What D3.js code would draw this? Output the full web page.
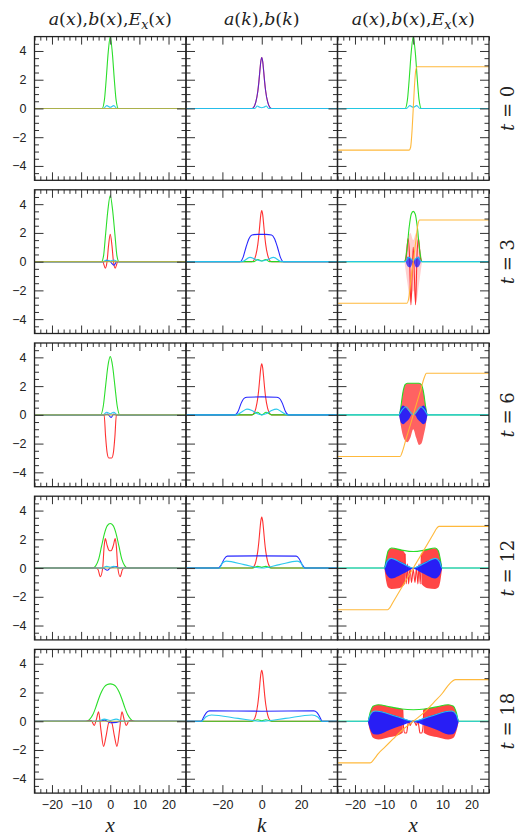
<!DOCTYPE html>
<html>
<head>
<meta charset="utf-8">
<script src="https://cdn.jsdelivr.net/npm/d3@7"></script>
<style>
  body { margin: 0; background: #fff; }
  svg text { fill: #222; }
</style>
</head>
<body>
<div id="chart"></div>
<script>
// ---- labels / ticks ----
const times = [0, 3, 6, 12, 18];
const xTicksX = [-20, -10, 0, 10, 20];
const xTicksK = [-20, 0, 20];
const yTicks = [-4, -2, 0, 2, 4];
const xAxisNames = ["x", "k", "x"];

// ---- values: [x, y] or [x, upper, lower] ----
const pZero = [[-26, 0], [26, 0]];
const kPeakRed = [[-5,0],[-4,0.1],[-3,0.45],[-2,1.2],[-1.5,1.8],[-1,2.55],[-0.5,3.25],[0,3.55],[0.5,3.25],[1,2.55],[1.5,1.8],[2,1.2],[3,0.45],[4,0.1],[5,0]];

// t = 0
const p0Green = [[-2.8,0],[-2,0.6],[-1.4,2.0],[-0.7,3.9],[0,5],[0.7,3.9],[1.4,2.0],[2,0.6],[2.8,0]];
const p0Cyan = [[-2.3,0],[-1.2,0.2],[0,0.08],[1.2,0.2],[2.3,0]];
const k0Cyan = [[-3.5,0],[-2.3,0.17],[-1,0.08],[0,0.05],[1,0.08],[2.3,0.17],[3.5,0]];
const f0Orange = [[-1.4,-2.9],[-0.9,-2.7],[-0.4,-1.5],[0,0],[0.4,1.5],[0.9,2.7],[1.4,2.9]];

// t = 3
const p3Green = [[-3,0],[-2.3,0.4],[-1.6,1.9],[-0.8,3.6],[0,4.6],[0.8,3.6],[1.6,1.9],[2.3,0.4],[3,0]];
const p3Red = [[-2.6,0],[-1.7,-0.45],[-1.1,0],[-0.6,1.1],[0,1.9],[0.6,1.1],[1.1,0],[1.7,-0.45],[2.6,0]];
const p3Blue = [[-2,0],[-1.2,0.1],[0,0],[1.3,-0.25],[2.2,0]];
const p3Cyan = [[-2.5,0],[-1.2,0.12],[0,0.05],[1.2,0.12],[2.5,0]];
const k3Blue = [[-11,0],[-9.5,0.3],[-8,1.0],[-6.5,1.6],[-5,1.85],[-2,1.9],[0,1.9],[2,1.9],[5,1.85],[6.5,1.6],[8,1.0],[9.5,0.3],[11,0]];
const k3Cyan = [[-10,0],[-6,0.3],[-3,0.15],[0,0.05],[3,0.15],[6,0.3],[10,0]];
const k3Green = [[-4,0],[-2,0.15],[0,0.05],[2,0.15],[4,0]];
const f3Green = [[-3,0],[-2.2,0.8],[-1.4,2.4],[-0.7,3.3],[0,3.5],[0.7,3.3],[1.4,2.4],[2.2,0.8],[3,0]];
const f3Red = [[-3,0],[-2.4,0.3],[-1.8,1.6],[-1.3,0.5],[-0.8,-3.0],[-0.3,-0.5],[0,1.0],[0.3,-0.5],[0.8,-3.0],[1.3,0.5],[1.8,1.6],[2.4,0.3],[3,0]];
const f3RedBand = [[-3,0,0],[-2,1.5,-1.5],[-1,2.0,-2.8],[0,1.5,-2.0],[1,2.0,-2.8],[2,1.5,-1.5],[3,0,0]];
const f3BlueBand = [[-2.6,0,0],[-1.8,0.35,-0.35],[-1,0.25,-0.4],[0,0.05,-0.05],[1,0.25,-0.4],[1.8,0.35,-0.35],[2.6,0,0]];
const f3Cyan = [[-2.8,0],[-1.5,0.3],[0,0.1],[1.5,0.3],[2.8,0]];
const f3Orange = [[-2.2,-2.9],[-1.6,-2.6],[-0.8,-1.3],[0,0],[0.8,1.3],[1.6,2.6],[2.2,2.9]];

// t = 6
const p6Green = [[-3.3,0],[-2.4,0.6],[-1.6,2.0],[-0.8,3.4],[0,4.05],[0.8,3.4],[1.6,2.0],[2.4,0.6],[3.3,0]];
const p6Red = [[-2.8,0],[-2.1,0],[-1.6,-1.5],[-1.1,-2.6],[-0.5,-3.0],[0,-3.0],[0.5,-3.0],[1.1,-2.6],[1.6,-1.5],[2.1,0],[2.8,0]];
const p6Blue = [[-2,0],[-1,0.05],[0.3,-0.18],[1.2,0.05],[2,0]];
const p6Cyan = [[-2.5,0],[-1.2,0.18],[0,0.08],[1.2,0.18],[2.5,0]];
const k6Blue = [[-13.5,0],[-12,0.25],[-10.5,0.8],[-9,1.15],[-7.5,1.23],[0,1.25],[7.5,1.23],[9,1.15],[10.5,0.8],[12,0.25],[13.5,0]];
const k6Cyan = [[-13,0],[-10,0.22],[-7.5,0.4],[-5,0.3],[-2.5,0.1],[0,0],[2.5,0.1],[5,0.3],[7.5,0.4],[10,0.22],[13,0]];
const k6Green = [[-5,0],[-2.2,0.18],[0,0],[2.2,0.18],[5,0]];
const f6Green = [[-4.8,0],[-4.3,0.5],[-3.6,1.5],[-2.8,2.1],[-2,2.2],[2,2.2],[2.8,2.1],[3.6,1.5],[4.3,0.5],[4.8,0]];
const f6RedBand = [[-4.8,0,0],[-4.3,0.5,-0.7],[-3.6,1.5,-1.4],[-2.8,2.1,-1.8],[-2,2.2,-1.9],[-1,2.2,-1.6],[0,2.2,-1.0],[1,2.2,-1.6],[2,2.2,-2.1],[2.8,2.1,-2.0],[3.6,1.5,-1.4],[4.3,0.5,-0.7],[4.8,0,0]];
const f6BlueBand = [[-4.9,0,0],[-4.2,0.5,-0.55],[-3.5,0.65,-0.65],[-2.5,0.5,-0.5],[-1.5,0.25,-0.3],[-0.5,0,0],[0.5,0,0],[1.5,0.25,-0.3],[2.5,0.5,-0.5],[3.5,0.65,-0.65],[4.2,0.5,-0.55],[4.9,0,0]];
const f6Cyan = [[-5,0],[-4,0.3],[-2.5,0.56],[-1.2,0.25],[0,0],[1.2,0.25],[2.5,0.56],[4,0.3],[5,0]];
const f6Orange = [[-4.5,-2.9],[-3.8,-2.6],[-2.5,-1.7],[-1,-0.7],[0,0],[1,0.7],[2.5,1.7],[3.8,2.6],[4.5,2.9]];

// t = 12
const p12Green = [[-6,0],[-5,0.15],[-4,0.6],[-3,1.5],[-2,2.4],[-1,2.95],[0,3.1],[1,2.95],[2,2.4],[3,1.5],[4,0.6],[5,0.15],[6,0]];
const p12Red = [[-5,0],[-4.2,-0.1],[-3.4,-0.6],[-2.6,0],[-2.1,1.5],[-1.7,2.05],[-1.1,1.6],[-0.5,1.25],[0,1.2],[0.5,1.25],[1.1,1.6],[1.7,2.05],[2.1,1.5],[2.6,0],[3.4,-0.6],[4.2,-0.1],[5,0]];
const p12Blue = [[-2.5,0],[-1,-0.15],[0,0],[1,0.05],[2,0.1],[3,0]];
const p12Cyan = [[-3,0],[-1.2,0.12],[0,0.05],[1.2,0.12],[3,0]];
const k12Blue = [[-22,0],[-20.5,0.25],[-19,0.65],[-17.5,0.83],[0,0.85],[17.5,0.83],[19,0.65],[20.5,0.25],[22,0]];
const k12Cyan = [[-21.5,0],[-20,0.35],[-18,0.48],[-9,0.24],[0,0],[9,0.24],[18,0.48],[20,0.35],[21.5,0]];
const k12Green = [[-5,0],[-2,0.12],[0,0.05],[2,0.12],[5,0]];
const f12Green = [[-9.9,0],[-9.3,0.6],[-8.6,1.2],[-7.5,1.4],[-4,1.25],[0,1.15],[4,1.25],[7.5,1.4],[8.6,1.2],[9.3,0.6],[9.9,0]];
const f12RedBand = [[-9.9,0,0],[-9.3,0.6,-0.9],[-8.6,1.2,-1.35],[-7.5,1.38,-1.45],[-5,1.3,-1.4],[-3.5,1.2,-1.25],[-2.8,1.0,-1.1],[0,null,null],[2.8,1.0,-1.1],[3.5,1.2,-1.25],[5,1.3,-1.4],[7.5,1.38,-1.45],[8.6,1.2,-1.35],[9.3,0.6,-0.9],[9.9,0,0]];
const f12RedCore = [[-2.8,1.0],[-2.4,-1.1],[-2.0,0.3],[-1.6,-1.1],[-1.1,0],[-0.6,-1.0],[0,-0.1],[0.6,-1.0],[1.1,0],[1.6,-1.1],[2.0,0.3],[2.4,-1.1],[2.8,1.0]];
const f12BlueBand = [[-9.9,0,0],[-9.2,0.5,-0.45],[-7.5,0.67,-0.73],[-5,0.5,-0.55],[-2.5,0.25,-0.3],[0,0.02,-0.05],[2.5,0.25,-0.3],[5,0.5,-0.55],[7.5,0.67,-0.73],[9.2,0.5,-0.45],[9.9,0,0]];
const f12Cyan = [[-9.9,0],[-9,0.45],[-7.6,0.67],[-4,0.35],[0,0],[4,0.35],[7.6,0.67],[9,0.45],[9.9,0]];
const f12Orange = [[-8.8,-2.9],[-8,-2.75],[-7,-2.4],[0,0],[7,2.4],[8,2.75],[8.8,2.9]];

// t = 18
const p18Green = [[-8,0],[-7,0.15],[-6,0.45],[-5,0.95],[-4,1.55],[-3,2.05],[-2,2.4],[-1,2.55],[0,2.6],[1,2.55],[2,2.4],[3,2.05],[4,1.55],[5,0.95],[6,0.45],[7,0.15],[8,0]];
const p18Red = [[-8.5,0],[-6.5,0.05],[-5.5,-0.3],[-4.8,0.1],[-4.0,0.65],[-3.2,-0.6],[-2.3,-1.75],[-1.4,-1.0],[-0.6,-0.15],[0,0],[0.6,-0.15],[1.4,-1.0],[2.3,-1.75],[3.2,-0.6],[4.0,0.65],[4.8,0.1],[5.5,-0.3],[6.5,0.05],[8.5,0]];
const p18Blue = [[-4,0],[-2,0.08],[0,-0.1],[2,-0.08],[4,0]];
const p18Cyan = [[-4.5,0],[-2,0.15],[0,0.05],[2,0.15],[4.5,0]];
const k18Blue = [[-30.7,0],[-29.5,0.3],[-28,0.62],[-26.5,0.72],[0,0.7],[26.5,0.72],[28,0.62],[29.5,0.3],[30.7,0]];
const k18Cyan = [[-30.5,0],[-28.5,0.3],[-25.5,0.44],[-12,0.2],[0,0],[12,0.2],[25.5,0.44],[28.5,0.3],[30.5,0]];
const k18Green = [[-5,0],[-2,0.1],[0,0.03],[2,0.1],[5,0]];
const f18Green = [[-15.6,0],[-14.8,0.6],[-13.8,1.05],[-12,1.15],[-8,1.0],[-4,0.85],[0,0.8],[4,0.85],[8,1.0],[12,1.15],[13.8,1.05],[14.8,0.6],[15.6,0]];
const f18RedBand = [[-15.6,0,0],[-14.8,0.6,-0.7],[-13.8,1.05,-1.15],[-12,1.15,-1.27],[-8,1.0,-1.1],[-5,0.9,-0.95],[-3.6,0.85,-0.8],[0,null,null],[3.6,0.85,-0.8],[5,0.9,-0.95],[8,1.0,-1.1],[12,1.15,-1.27],[13.8,1.05,-1.15],[14.8,0.6,-0.7],[15.6,0,0]];
const f18RedCore = [[-3.6,0.8],[-3.3,-0.5],[-2.9,-0.82],[-2.3,-0.82],[-1.9,-0.3],[-1.5,0.05],[-1.1,-0.3],[-0.6,-0.1],[0,0.05],[0.6,-0.1],[1.1,-0.3],[1.5,0.05],[1.9,-0.3],[2.3,-0.82],[2.9,-0.82],[3.3,-0.5],[3.6,0.8]];
const f18BlueBand = [[-15.6,0,0],[-15,0.35,-0.45],[-13.5,0.68,-0.9],[-12,0.72,-0.92],[-8,0.5,-0.6],[-4,0.25,-0.3],[0,0.02,-0.05],[4,0.25,-0.3],[8,0.5,-0.6],[12,0.72,-0.92],[13.5,0.68,-0.9],[15,0.35,-0.45],[15.6,0,0]];
const f18Cyan = [[-15.6,0],[-14.8,0.45],[-13.1,0.71],[-6,0.35],[0,0],[6,0.35],[13.1,0.71],[14.8,0.45],[15.6,0]];
const f18Orange = [[-14.8,-2.9],[-13.5,-2.65],[-12,-2.25],[-10,-1.85],[-7,-1.25],[-4.5,-0.75],[0,0],[4.5,0.75],[7,1.3],[10,1.95],[12,2.5],[13.5,2.8],[14.5,2.9]];

// colours
const col = { red: "#ff2626", green: "#1fdc1f", blue: "#1c1cff", cyan: "#22c6ec", orange: "#ffb531", olive: "#b3b042" };

// layers per panel, in drawing order: [kind, colour, data, opacity]
// "line" is carried flat to the panel edges, "seg" is drawn only where listed
const panels = [
  [ // t = 0
    [["line","green",p0Green],["line","cyan",p0Cyan],["line","olive",pZero]],
    [["line","red",kPeakRed],["line","blue",kPeakRed,0.7],["line","cyan",k0Cyan]],
    [["line","green",p0Green],["line","cyan",p0Cyan],["line","orange",f0Orange]]
  ],
  [ // t = 3
    [["line","green",p3Green],["line","red",p3Red],["line","blue",p3Blue],["line","cyan",p3Cyan],["line","olive",pZero]],
    [["line","red",kPeakRed],["line","green",k3Green],["line","blue",k3Blue],["line","cyan",k3Cyan]],
    [["band","red",f3RedBand,0.22],["seg","red",f3Red],["line","green",f3Green],["band","blue",f3BlueBand,0.75],["line","cyan",f3Cyan],["line","orange",f3Orange]]
  ],
  [ // t = 6
    [["line","green",p6Green],["line","red",p6Red],["line","blue",p6Blue],["line","cyan",p6Cyan],["line","olive",pZero]],
    [["line","red",kPeakRed],["line","green",k6Green],["line","blue",k6Blue],["line","cyan",k6Cyan]],
    [["band","red",f6RedBand,0.72],["line","green",f6Green],["band","blue",f6BlueBand,0.92],["line","cyan",f6Cyan],["line","orange",f6Orange]]
  ],
  [ // t = 12
    [["line","green",p12Green],["line","red",p12Red],["line","blue",p12Blue],["line","cyan",p12Cyan],["line","olive",pZero]],
    [["line","red",kPeakRed],["line","green",k12Green],["line","blue",k12Blue],["line","cyan",k12Cyan]],
    [["band","red",f12RedBand,0.85],["seg","red",f12RedCore],["line","green",f12Green],["band","blue",f12BlueBand,0.95],["line","cyan",f12Cyan],["line","orange",f12Orange]]
  ],
  [ // t = 18
    [["line","green",p18Green],["line","red",p18Red],["line","blue",p18Blue],["line","cyan",p18Cyan],["line","olive",pZero]],
    [["line","red",kPeakRed],["line","green",k18Green],["line","blue",k18Blue],["line","cyan",k18Cyan]],
    [["band","red",f18RedBand,0.85],["seg","red",f18RedCore],["line","green",f18Green],["band","blue",f18BlueBand,0.95],["line","cyan",f18Cyan],["line","orange",f18Orange]]
  ]
];

// layout
const padL = 34.5, padT = 36.6, pw = 151.5, ph = 143.7, pitch = 153.2;

const svg = d3.select("#chart").append("svg")
  .attr("width", 523)
  .attr("height", 836)
  .style("font-family", "'Liberation Sans', Arial, sans-serif");

// text with italic / subscript pieces
function rich(sel, parts) {
  parts.forEach(function(p) {
    const ts = sel.append("tspan").text(p.t);
    if (p.i) ts.attr("font-style", "italic");
    if (p.sub) ts.attr("font-size", "0.72em").attr("dy", "0.3em");
    if (p.up) ts.attr("dy", "-0.22em");
  });
}

const titleX = [{t:"a",i:1},{t:"("},{t:"x",i:1},{t:"),"},{t:"b",i:1},{t:"("},{t:"x",i:1},{t:"),"},{t:"E",i:1},{t:"x",i:1,sub:1},{t:"(",up:1},{t:"x",i:1},{t:")"}];
const titleK = [{t:"a",i:1},{t:"("},{t:"k",i:1},{t:"),"},{t:"b",i:1},{t:"("},{t:"k",i:1},{t:")"}];
[titleX, titleK, titleX].forEach(function(parts, c) {
  const t = svg.append("text")
    .attr("x", padL + pw * (c + 0.5))
    .attr("y", 25)
    .attr("text-anchor", "middle")
    .style("font-family", "'DejaVu Serif', serif")
    .style("font-size", "17.5px");
  rich(t, parts);
});

xAxisNames.forEach(function(n, c) {
  svg.append("text")
    .attr("x", padL + pw * (c + 0.5))
    .attr("y", 832)
    .attr("text-anchor", "middle")
    .style("font-family", "'Liberation Serif', serif")
    .style("font-style", "italic")
    .style("font-size", "21px")
    .text(n);
});

const line = d3.line().curve(d3.curveMonotoneX);
const area = d3.area().curve(d3.curveMonotoneX).defined(function(d) { return d[1] != null; });

times.forEach(function(t, r) {
  const py = padT + r * pitch;

  const lab = svg.append("text")
    .attr("transform", "translate(508," + (py + ph / 2) + ") rotate(-90)")
    .attr("text-anchor", "middle")
    .attr("dy", "0.35em")
    .style("font-family", "'DejaVu Serif', serif")
    .style("font-size", "18px");
  rich(lab, [{t:"t",i:1},{t:" = " + t}]);

  for (let c = 0; c < 3; c++) {
    const px = padL + c * pw;
    const isK = c === 1;
    const lim = isK ? 38.5 : 26;
    const x = d3.scaleLinear().domain([-lim, lim]).range([0, pw]);
    const y = d3.scaleLinear().domain([-5, 5]).range([ph, 0]);
    const g = svg.append("g").attr("transform", "translate(" + px + "," + py + ")");

    const cid = "clip" + r + "_" + c;
    g.append("clipPath").attr("id", cid).append("rect").attr("width", pw).attr("height", ph);
    const plot = g.append("g").attr("clip-path", "url(#" + cid + ")");

    panels[r][c].forEach(function(layer) {
      const kind = layer[0], colour = col[layer[1]], data = layer[2];
      const op = layer[3] == null ? 0.95 : layer[3];
      if (kind === "band") {
        area.x(function(d) { return x(d[0]); })
          .y0(function(d) { return y(d[2]); })
          .y1(function(d) { return y(d[1]); });
        plot.append("path").attr("d", area(data))
          .attr("fill", colour).attr("fill-opacity", op);
      } else {
        // extend flat ends to the panel edges for whole-range curves
        const full = kind === "seg" ? data
          : [[-lim, data[0][1]]].concat(data, [[lim, data[data.length - 1][1]]]);
        line.x(function(d) { return x(d[0]); }).y(function(d) { return y(d[1]); });
        plot.append("path").attr("d", line(full))
          .attr("fill", "none").attr("stroke", colour)
          .attr("stroke-width", 1.1).attr("stroke-opacity", op);
      }
    });

    // ticks
    const xMajor = isK ? d3.range(-20, 21, 20) : d3.range(-20, 21, 10);
    const xMinor = isK ? d3.range(-35, 36, 5).filter(function(v) { return v % 20 !== 0; })
                       : d3.range(-26, 27, 2).filter(function(v) { return v % 10 !== 0; });
    const yMinor = d3.range(-4.5, 5, 0.5).filter(function(v) { return v % 2 !== 0; });
    const bottom = r === times.length - 1, leftCol = c === 0;

    function styleAxis(a) {
      a.select(".domain").remove();
      a.selectAll("line").attr("stroke", "#333").attr("stroke-width", 1);
      a.selectAll("text").style("font-size", "12.5px").attr("fill", "#222");
    }

    g.append("g").attr("transform", "translate(0," + ph + ")")
      .call(d3.axisBottom(x).tickValues(bottom ? (isK ? xTicksK : xTicksX) : xMajor)
        .tickSize(-8).tickPadding(7).tickFormat(bottom ? d3.format("d") : ""))
      .call(styleAxis);
    g.append("g").attr("transform", "translate(0," + ph + ")")
      .call(d3.axisBottom(x).tickValues(xMinor).tickSize(-4).tickFormat(""))
      .call(styleAxis);
    g.append("g").call(d3.axisTop(x).tickValues(xMajor).tickSize(-8).tickFormat("")).call(styleAxis);
    g.append("g").call(d3.axisTop(x).tickValues(xMinor).tickSize(-4).tickFormat("")).call(styleAxis);

    g.append("g")
      .call(d3.axisLeft(y).tickValues(yTicks).tickSize(-9).tickPadding(8)
        .tickFormat(leftCol ? d3.format("d") : ""))
      .call(styleAxis);
    g.append("g").call(d3.axisLeft(y).tickValues(yMinor).tickSize(-4.5).tickFormat("")).call(styleAxis);
    g.append("g").attr("transform", "translate(" + pw + ",0)")
      .call(d3.axisRight(y).tickValues(yTicks).tickSize(-9).tickFormat("")).call(styleAxis);
    g.append("g").attr("transform", "translate(" + pw + ",0)")
      .call(d3.axisRight(y).tickValues(yMinor).tickSize(-4.5).tickFormat("")).call(styleAxis);

    g.append("rect").attr("width", pw).attr("height", ph)
      .attr("fill", "none").attr("stroke", "#222").attr("stroke-width", 1.3);
  }
});
</script>
</body>
</html>
